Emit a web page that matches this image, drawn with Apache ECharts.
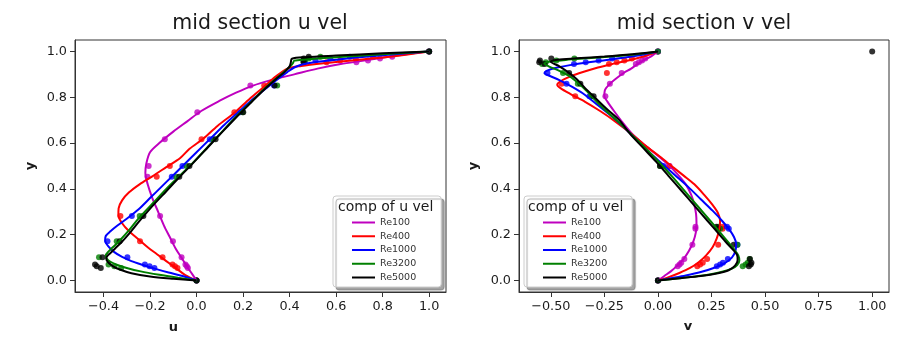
<!DOCTYPE html>
<html>
<head>
<meta charset="utf-8">
<script src="https://cdn.jsdelivr.net/npm/echarts@6/dist/echarts.min.js"></script>
<style>
  html, body { margin: 0; padding: 0; background: #fff; }
  #chart { width: 922px; height: 344px; }
</style>
</head>
<body>
<div id="chart"></div>
<script>
const RE_NAMES = ["Re100", "Re400", "Re1000", "Re3200", "Re5000"];
const COLORS = ["#bf00bf", "#ff0000", "#0000ff", "#008000", "#000000"];

// tick labels
const U_TICKS = [-0.4, -0.2, 0, 0.2, 0.4, 0.6, 0.8, 1.0];
const V_TICKS = [-0.5, -0.25, 0, 0.25, 0.5, 0.75, 1.0];
const Y_TICKS = [0, 0.2, 0.4, 0.6, 0.8, 1.0];

// reference points (dots), u along the vertical mid line
const REF_Y = [1.0, 0.9766, 0.9688, 0.9609, 0.9531, 0.8516, 0.7344, 0.6172, 0.5, 0.4531, 0.2813, 0.1719, 0.1016, 0.0703, 0.0625, 0.0547, 0.0];
const REF_U_100 = [1.0, 0.84123, 0.78871, 0.73722, 0.68717, 0.23151, 0.00332, -0.13641, -0.20581, -0.2109, -0.15662, -0.1015, -0.06434, -0.04775, -0.04192, -0.03717, 0];
const REF_U_400 = [1.0, 0.75837, 0.68439, 0.61756, 0.55892, 0.29093, 0.16256, 0.02135, -0.11477, -0.17119, -0.32726, -0.24299, -0.14612, -0.10338, -0.09266, -0.08186, 0];
const REF_U_1000 = [1.0, 0.65928, 0.57492, 0.51117, 0.46604, 0.33304, 0.18719, 0.05702, -0.0608, -0.10648, -0.27805, -0.38289, -0.2973, -0.2222, -0.20196, -0.18109, 0];
const REF_U_3200 = [1.0, 0.53236, 0.48296, 0.46547, 0.46101, 0.34682, 0.19791, 0.07156, -0.04272, -0.08664, -0.24427, -0.34323, -0.41933, -0.37827, -0.35344, -0.32407, 0];
const REF_U_5000 = [1.0, 0.48223, 0.4612, 0.45992, 0.46036, 0.33556, 0.20087, 0.08183, -0.03039, -0.07404, -0.22855, -0.3305, -0.40435, -0.43643, -0.42901, -0.41165, 0];

// reference points (dots), v along the horizontal mid line
const REF_X = [1.0, 0.9688, 0.9609, 0.9531, 0.9453, 0.9063, 0.8594, 0.8047, 0.5, 0.2344, 0.2266, 0.1563, 0.0938, 0.0781, 0.0703, 0.0625, 0.0];
const REF_V_100 = [0, -0.05906, -0.07391, -0.08864, -0.10313, -0.16914, -0.22445, -0.24533, 0.05454, 0.17527, 0.17507, 0.16077, 0.12317, 0.1089, 0.10091, 0.09233, 0];
const REF_V_400 = [0, -0.12146, -0.15663, -0.19254, -0.22847, -0.23827, -0.44993, -0.38598, 0.05188, 0.30174, 0.30203, 0.28124, 0.22965, 0.2092, 0.19713, 0.1836, 0];
const REF_V_1000 = [0, -0.21388, -0.27669, -0.33714, -0.39188, -0.5155, -0.42665, -0.31966, 0.02526, 0.32235, 0.33075, 0.37095, 0.32627, 0.30353, 0.29012, 0.27485, 0];
const REF_V_3200 = [0, -0.39017, -0.47425, -0.52357, -0.54053, -0.44307, -0.37401, -0.31184, 0.00999, 0.28188, 0.2903, 0.37119, 0.42768, 0.41906, 0.40917, 0.3956, 0];
const REF_V_5000 = [1.0, -0.49774, -0.55069, -0.55408, -0.52876, -0.41442, -0.36214, -0.30018, 0.00945, 0.2728, 0.28066, 0.35368, 0.42951, 0.43648, 0.43329, 0.42447, 0];

// computed profiles (lines), [u, y]
const SIM_U_100 = [[0, 0], [-0.02, 0.03], [-0.04, 0.06], [-0.065, 0.1], [-0.09, 0.14], [-0.115, 0.19], [-0.14, 0.24], [-0.165, 0.3], [-0.19, 0.36], [-0.21, 0.42], [-0.22, 0.47], [-0.216, 0.51], [-0.2, 0.56], [-0.16, 0.6], [-0.1, 0.65], [-0.04, 0.695], [0.02, 0.74], [0.1, 0.785], [0.17, 0.82], [0.24, 0.85], [0.32, 0.875], [0.42, 0.9], [0.52, 0.925], [0.62, 0.945], [0.72, 0.96], [0.82, 0.976], [0.9, 0.988], [1.0, 1.0]];
const SIM_U_400 = [[0, 0], [-0.05, 0.025], [-0.09, 0.055], [-0.13, 0.085], [-0.17, 0.115], [-0.21, 0.145], [-0.25, 0.18], [-0.29, 0.215], [-0.32, 0.25], [-0.336, 0.285], [-0.335, 0.315], [-0.32, 0.35], [-0.29, 0.385], [-0.245, 0.42], [-0.19, 0.455], [-0.13, 0.495], [-0.07, 0.535], [-0.03, 0.575], [0.03, 0.62], [0.09, 0.675], [0.16, 0.73], [0.23, 0.795], [0.29, 0.846], [0.34, 0.89], [0.39, 0.925], [0.45, 0.937], [0.56, 0.95], [0.68, 0.962], [0.8, 0.974], [0.9, 0.986], [1.0, 1.0]];
const SIM_U_1000 = [[0, 0], [-0.06, 0.02], [-0.12, 0.035], [-0.18, 0.052], [-0.23, 0.068], [-0.28, 0.085], [-0.32, 0.103], [-0.355, 0.125], [-0.38, 0.15], [-0.393, 0.175], [-0.39, 0.195], [-0.37, 0.215], [-0.34, 0.24], [-0.3, 0.27], [-0.25, 0.31], [-0.2, 0.36], [-0.15, 0.41], [-0.1, 0.46], [-0.05, 0.51], [0.0, 0.56], [0.06, 0.62], [0.12, 0.68], [0.18, 0.735], [0.24, 0.79], [0.3, 0.84], [0.35, 0.88], [0.39, 0.91], [0.42, 0.93], [0.45, 0.942], [0.5, 0.952], [0.6, 0.964], [0.7, 0.975], [0.85, 0.988], [1.0, 1.0]];
const SIM_U_3200 = [[0, 0], [-0.08, 0.012], [-0.16, 0.025], [-0.24, 0.04], [-0.3, 0.055], [-0.34, 0.068], [-0.37, 0.082], [-0.387, 0.097], [-0.39, 0.11], [-0.38, 0.125], [-0.36, 0.145], [-0.33, 0.175], [-0.29, 0.22], [-0.25, 0.27], [-0.19, 0.335], [-0.13, 0.4], [-0.07, 0.46], [-0.01, 0.52], [0.05, 0.585], [0.11, 0.65], [0.17, 0.715], [0.23, 0.775], [0.29, 0.835], [0.34, 0.88], [0.38, 0.915], [0.405, 0.937], [0.415, 0.95], [0.42, 0.96], [0.47, 0.965], [0.6, 0.975], [0.8, 0.988], [1.0, 1.0]];
const SIM_U_5000 = [[0, 0], [-0.1, 0.008], [-0.2, 0.018], [-0.28, 0.032], [-0.33, 0.048], [-0.36, 0.063], [-0.38, 0.08], [-0.388, 0.095], [-0.385, 0.105], [-0.37, 0.12], [-0.35, 0.14], [-0.32, 0.17], [-0.285, 0.21], [-0.245, 0.26], [-0.19, 0.325], [-0.13, 0.39], [-0.07, 0.455], [-0.01, 0.518], [0.05, 0.583], [0.11, 0.648], [0.17, 0.712], [0.23, 0.773], [0.29, 0.833], [0.34, 0.878], [0.38, 0.912], [0.4, 0.935], [0.405, 0.95], [0.41, 0.968], [0.47, 0.975], [0.6, 0.982], [0.8, 0.992], [1.0, 1.0]];

// computed profiles (lines), [v, y]
const SIM_V_100 = [[0, 0], [0.03, 0.02], [0.06, 0.04], [0.09, 0.065], [0.12, 0.095], [0.145, 0.13], [0.165, 0.17], [0.177, 0.21], [0.18, 0.25], [0.178, 0.29], [0.17, 0.33], [0.155, 0.375], [0.13, 0.42], [0.095, 0.46], [0.055, 0.5], [0.0, 0.545], [-0.06, 0.59], [-0.12, 0.64], [-0.165, 0.69], [-0.205, 0.74], [-0.235, 0.78], [-0.25, 0.805], [-0.248, 0.83], [-0.225, 0.858], [-0.195, 0.882], [-0.16, 0.906], [-0.125, 0.925], [-0.1, 0.942], [-0.065, 0.962], [-0.03, 0.98], [0, 1.0]];
const SIM_V_400 = [[0, 0], [0.05, 0.015], [0.1, 0.033], [0.15, 0.055], [0.19, 0.08], [0.225, 0.11], [0.255, 0.145], [0.275, 0.185], [0.287, 0.225], [0.29, 0.26], [0.28, 0.295], [0.255, 0.33], [0.215, 0.375], [0.17, 0.42], [0.12, 0.458], [0.07, 0.495], [0.01, 0.54], [-0.06, 0.59], [-0.13, 0.645], [-0.2, 0.695], [-0.27, 0.74], [-0.34, 0.78], [-0.41, 0.815], [-0.455, 0.84], [-0.47, 0.855], [-0.455, 0.87], [-0.41, 0.89], [-0.35, 0.91], [-0.28, 0.93], [-0.2, 0.948], [-0.12, 0.965], [-0.06, 0.98], [0, 1.0]];
const SIM_V_1000 = [[0, 0], [0.06, 0.01], [0.13, 0.022], [0.2, 0.037], [0.26, 0.055], [0.31, 0.075], [0.345, 0.1], [0.362, 0.13], [0.365, 0.16], [0.355, 0.19], [0.335, 0.22], [0.3, 0.26], [0.255, 0.305], [0.2, 0.355], [0.14, 0.41], [0.08, 0.46], [0.02, 0.51], [-0.04, 0.56], [-0.1, 0.615], [-0.16, 0.67], [-0.22, 0.72], [-0.28, 0.765], [-0.34, 0.81], [-0.4, 0.845], [-0.46, 0.875], [-0.51, 0.895], [-0.53, 0.905], [-0.52, 0.915], [-0.47, 0.93], [-0.38, 0.945], [-0.28, 0.958], [-0.18, 0.97], [-0.08, 0.985], [0, 1.0]];
const SIM_V_3200 = [[0, 0], [0.08, 0.008], [0.16, 0.016], [0.24, 0.026], [0.3, 0.038], [0.345, 0.052], [0.37, 0.068], [0.38, 0.088], [0.375, 0.11], [0.36, 0.13], [0.33, 0.165], [0.29, 0.21], [0.245, 0.26], [0.19, 0.32], [0.13, 0.385], [0.07, 0.45], [0.01, 0.512], [-0.05, 0.57], [-0.11, 0.625], [-0.17, 0.68], [-0.23, 0.73], [-0.28, 0.775], [-0.33, 0.825], [-0.37, 0.86], [-0.41, 0.89], [-0.46, 0.915], [-0.51, 0.935], [-0.53, 0.947], [-0.51, 0.955], [-0.43, 0.963], [-0.33, 0.97], [-0.22, 0.978], [-0.1, 0.988], [0, 1.0]];
const SIM_V_5000 = [[0, 0], [0.1, 0.01], [0.2, 0.02], [0.28, 0.032], [0.33, 0.045], [0.36, 0.065], [0.372, 0.09], [0.37, 0.11], [0.35, 0.135], [0.32, 0.165], [0.28, 0.208], [0.23, 0.262], [0.17, 0.327], [0.11, 0.392], [0.05, 0.456], [-0.01, 0.52], [-0.07, 0.58], [-0.13, 0.64], [-0.18, 0.7], [-0.24, 0.75], [-0.29, 0.795], [-0.34, 0.84], [-0.38, 0.88], [-0.42, 0.91], [-0.46, 0.935], [-0.5, 0.955], [-0.47, 0.964], [-0.38, 0.97], [-0.25, 0.978], [-0.12, 0.988], [0, 1.0]];

const REF_U = [REF_U_100, REF_U_400, REF_U_1000, REF_U_3200, REF_U_5000];
const REF_V = [REF_V_100, REF_V_400, REF_V_1000, REF_V_3200, REF_V_5000];
const SIM_U = [SIM_U_100, SIM_U_400, SIM_U_1000, SIM_U_3200, SIM_U_5000];
const SIM_V = [SIM_V_100, SIM_V_400, SIM_V_1000, SIM_V_3200, SIM_V_5000];

const FONT = "DejaVu Sans";
const INK = "#1a1a1a";
const SPINE = "#333";

function pairs(xs, ys) {
  return xs.map((x, i) => [x, ys[i]]);
}

// matplotlib style numbers: fixed decimals, real minus sign
function fmt(digits) {
  return (v) => (v < -1e-9 ? "\u2212" : "") + Math.abs(v).toFixed(digits);
}

function valueAxis(gridIndex, min, max, ticks, digits, name, nameGap, namePad) {
  return {
    type: "value",
    gridIndex,
    min,
    max,
    name,
    nameLocation: "middle",
    nameGap,
    nameTextStyle: { fontFamily: FONT, fontSize: 13, fontWeight: "bold", color: INK, padding: namePad },
    axisLine: { show: true, onZero: false, lineStyle: { color: SPINE, width: 1 } },
    axisTick: { show: true, length: 5, lineStyle: { color: SPINE }, customValues: ticks },
    axisLabel: {
      customValues: ticks,
      formatter: fmt(digits),
      fontFamily: FONT,
      fontSize: 12.8,
      color: INK,
      margin: 8,
    },
    splitLine: { show: false },
  };
}

function legendBox(left) {
  return {
    data: RE_NAMES,
    left,
    top: 196,
    orient: "vertical",
    icon: "rect",
    itemWidth: 23,
    itemHeight: 2,
    itemGap: 2.75,
    padding: [21, 25, 4, 19],
    selectedMode: false,
    backgroundColor: "#fff",
    borderColor: "#cccccc",
    borderWidth: 1,
    borderRadius: 3,
    shadowColor: "rgba(0,0,0,0.35)",
    shadowBlur: 1,
    shadowOffsetX: 3,
    shadowOffsetY: 3,
    textStyle: { fontFamily: FONT, fontSize: 9.5, lineHeight: 11, color: "#333" },
  };
}

function titleAt(text, left, top, size, align) {
  return {
    text,
    left,
    top,
    padding: 0,
    textAlign: align,
    textStyle: { fontFamily: FONT, fontSize: size, fontWeight: "normal", color: INK, lineHeight: size + 4 },
  };
}

const series = [];
[0, 1].forEach((g) => {
  RE_NAMES.forEach((name, k) => {
    const color = COLORS[k];
    series.push({
      name,
      type: "line",
      xAxisIndex: g,
      yAxisIndex: g,
      data: g === 0 ? SIM_U[k] : SIM_V[k],
      symbol: "none",
      smooth: 0.3,
      itemStyle: { color },
      lineStyle: { color, width: 2 },
    });
    series.push({
      name: name + " ref",
      type: "scatter",
      xAxisIndex: g,
      yAxisIndex: g,
      data: g === 0 ? pairs(REF_U[k], REF_Y) : pairs(REF_V[k], REF_X),
      symbol: "circle",
      symbolSize: 6,
      itemStyle: { color },
    });
  });
});

const chart = echarts.init(document.getElementById("chart"));
chart.setOption({
  animation: false,
  backgroundColor: "#fff",
  title: [
    titleAt("mid section u vel", 260, 11, 20.5, "center"),
    titleAt("mid section v vel", 704, 11, 20.5, "center"),
    titleAt("comp of u vel", 338, 198, 14, "left"),
    titleAt("comp of u vel", 528, 198, 14, "left"),
  ],
  legend: [legendBox(333), legendBox(524)],
  grid: [
    { left: 75, top: 40, width: 371, height: 252, show: true, borderColor: SPINE, borderWidth: 1, backgroundColor: "#fff" },
    { left: 519, top: 40, width: 370, height: 252, show: true, borderColor: SPINE, borderWidth: 1, backgroundColor: "#fff" },
  ],
  xAxis: [
    valueAxis(0, -0.5225, 1.0725, U_TICKS, 1, "u", 29, [0, 174, 0, 0]),
    valueAxis(1, -0.6485, 1.0785, V_TICKS, 2, "v", 28, [0, 32, 0, 0]),
  ],
  yAxis: [
    valueAxis(0, -0.05, 1.05, Y_TICKS, 1, "y", 38, 0),
    valueAxis(1, -0.05, 1.05, Y_TICKS, 1, "y", 39, 0),
  ],
  series,
});
</script>
</body>
</html>
